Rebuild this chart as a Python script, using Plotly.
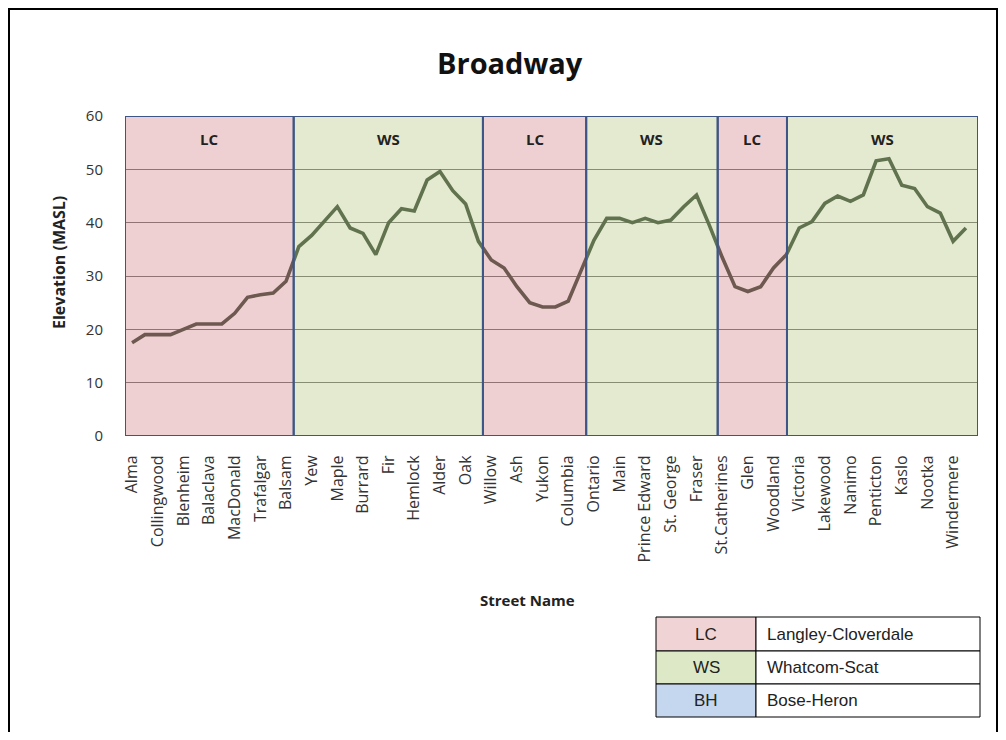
import plotly.graph_objects as go

# ---- data ----
streets = ["Alma", "Collingwood", "Blenheim", "Balaclava", "MacDonald", "Trafalgar",
           "Balsam", "Yew", "Maple", "Burrard", "Fir", "Hemlock", "Alder", "Oak",
           "Willow", "Ash", "Yukon", "Columbia", "Ontario", "Main", "Prince Edward",
           "St. George", "Fraser", "St.Catherines", "Glen", "Woodland", "Victoria",
           "Lakewood", "Nanimo", "Penticton", "Kaslo", "Nootka", "Windermere"]

elevation = [17.5, 19, 19, 19, 20, 21, 21, 21, 23, 26, 26.5, 26.8, 29, 35.5, 37.6, 40.2,
             43, 39, 38, 34, 40, 42.6, 42.2, 48, 49.6, 46, 43.5, 36.5, 33, 31.5, 28, 25,
             24.2, 24.2, 25.3, 31, 36.7, 40.8, 40.8, 40, 40.8, 40, 40.5, 43, 45.2, 39.5,
             33.5, 28, 27.1, 28, 31.5, 34, 39, 40.2, 43.6, 45, 44, 45.2, 51.6, 52, 47,
             46.4, 43, 41.8, 36.5, 39]

zone_codes = ["LC", "WS", "LC", "WS", "LC", "WS"]
zone_edges = [-0.55, 12.6, 27.35, 35.4, 45.65, 51.05, 65.94]

legend_codes = ["LC", "WS", "BH"]
legend_names = ["Langley-Cloverdale", "Whatcom-Scat", "Bose-Heron"]

# ---- styling ----
OFF = 8  # page body margin
W, H = 1006 - 2 * OFF, 740 - 2 * OFF
L, R, T, B = 125 - OFF, 978 - OFF, 116 - OFF, 436 - OFF
zone_fill = {"LC": "rgba(203,100,107,0.30)", "WS": "rgba(162,186,100,0.30)"}
legend_fill = {"LC": "#efd3d5", "WS": "#dde8c6", "BH": "#c5d7ee"}
border_blue = "#3d5687"
FONT = "Open Sans"


def px(x):
    return (x - OFF - L) / (R - L)


def py(y):
    return (B - (y - OFF)) / (B - T)


def note(xp, yp, text, size, family=FONT, xanchor="center", angle=0, color="#222"):
    return dict(x=xp, y=yp, xref="paper", yref="paper", text=text, showarrow=False,
                xanchor=xanchor, yanchor="middle", textangle=angle,
                font=dict(family=family, size=size, color=color))


x = list(range(len(elevation)))
fig = go.Figure()
fig.add_trace(go.Scatter(x=x, y=elevation, mode="lines",
                         line=dict(color="rgb(70,85,70)", width=3.6),
                         hoverinfo="skip", showlegend=False))

shapes = []
annotations = []
for i, code in enumerate(zone_codes):
    x0, x1 = zone_edges[i], zone_edges[i + 1]
    shapes.append(dict(type="rect", xref="x", yref="y", x0=x0, x1=x1, y0=0, y1=60,
                       fillcolor=zone_fill[code], line=dict(color=border_blue, width=2),
                       layer="above"))
    annotations.append(dict(x=(x0 + x1) / 2, y=py(139), xref="x", yref="paper",
                            text="<b>%s</b>" % code, showarrow=False,
                            xanchor="center", yanchor="middle",
                            font=dict(family=FONT, size=15, color="#222")))

# outer frame (kept inside the visible figure area)
shapes.append(dict(type="rect", xref="paper", yref="paper", x0=px(9), x1=px(997),
                   y0=py(765), y1=py(9), line=dict(color="black", width=2),
                   fillcolor="rgba(0,0,0,0)", layer="above"))

# legend table
tx0, tx_mid, tx1 = 656, 756, 980
row_tops = [617, 651, 684, 717]
for r, code in enumerate(legend_codes):
    y0, y1 = row_tops[r], row_tops[r + 1]
    shapes.append(dict(type="rect", xref="paper", yref="paper", x0=px(tx0), x1=px(tx_mid),
                       y0=py(y1), y1=py(y0), fillcolor=legend_fill[code],
                       line=dict(color="black", width=1), layer="above"))
    shapes.append(dict(type="rect", xref="paper", yref="paper", x0=px(tx_mid), x1=px(tx1),
                       y0=py(y1), y1=py(y0), fillcolor="white",
                       line=dict(color="black", width=1), layer="above"))
    annotations.append(note(px((tx0 + tx_mid) / 2), py((y0 + y1) / 2), code, 17,
                            family="Liberation Sans"))
    annotations.append(note(px(tx_mid + 9), py((y0 + y1) / 2), legend_names[r], 17,
                            family="Liberation Sans", xanchor="left"))

# titles
annotations.append(note(px(510), py(62), "<b>Broadway</b>", 29, color="#111"))
annotations.append(note(px(59), py(263), "<b>Elevation (MASL)</b>", 16, angle=-90))
annotations.append(note(px(527), py(600), "<b>Street Name</b>", 15))

fig.update_layout(
    width=W, height=H,
    margin=dict(l=L, r=W - R, t=T, b=H - B, pad=0),
    paper_bgcolor="white", plot_bgcolor="white",
    shapes=shapes, annotations=annotations, showlegend=False,
    xaxis=dict(range=[zone_edges[0], zone_edges[-1]],
               tickmode="array", tickvals=x[::2], ticktext=streets,
               tickangle=-90, ticks="outside", ticklen=12, tickcolor="rgba(0,0,0,0)",
               showgrid=False, zeroline=False, showline=False,
               tickfont=dict(family=FONT, size=16, color="#333")),
    yaxis=dict(range=[0, 60], dtick=10, ticks="outside", ticklen=18,
               tickcolor="rgba(0,0,0,0)", showgrid=True, gridcolor="#7a7a7a",
               gridwidth=1, zeroline=False, showline=False,
               tickfont=dict(family=FONT, size=15, color="#333")),
)

fig.write_html("out.html")
